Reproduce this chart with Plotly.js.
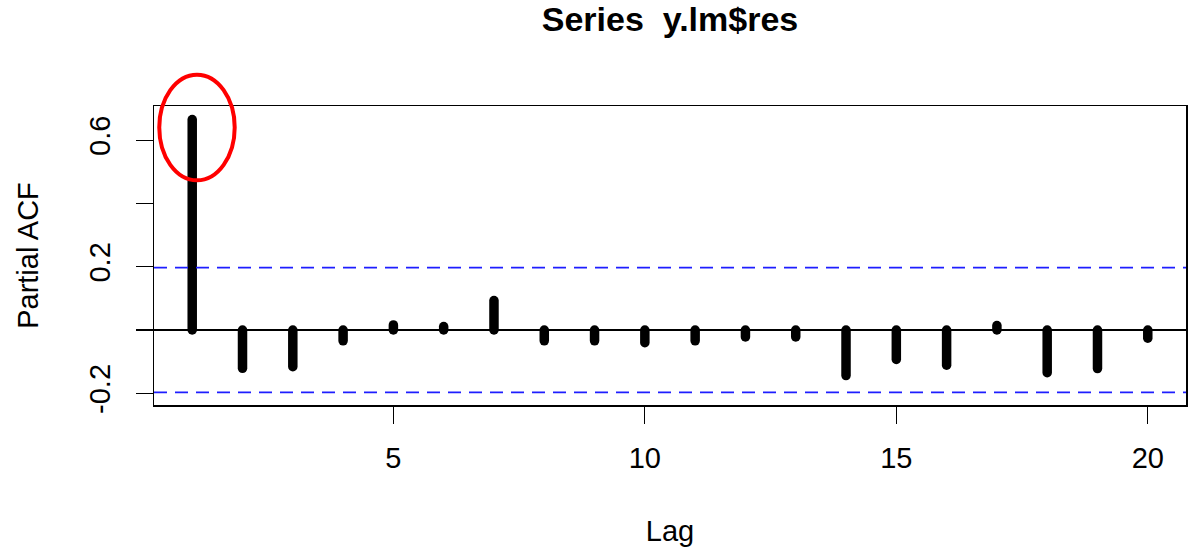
<!DOCTYPE html>
<html>
<head>
<meta charset="utf-8">
<script src="https://cdn.plot.ly/plotly-3.0.1.min.js"></script>
<style>
  html, body { margin: 0; padding: 0; background: #fff; }
  #chart { width: 1193px; height: 550px; }
  .scatterlayer .trace .js-line { stroke-linecap: round; }
</style>
</head>
<body>
<div id="chart"></div>
<script>
// Data
const lags = [1, 2, 3, 4, 5, 6, 7, 8, 9, 10, 11, 12, 13, 14, 15, 16, 17, 18, 19, 20];
const pacfValues = [0.665, -0.121, -0.116, -0.034, 0.016, 0.011, 0.093, -0.034, -0.034, -0.040,
                    -0.034, -0.022, -0.022, -0.144, -0.093, -0.111, 0.014, -0.135, -0.122, -0.026];
const confLimit = 0.197;
const xTickVals = [5, 10, 15, 20];
const yTickVals = [-0.2, 0, 0.2, 0.4, 0.6];
const yTickText = ['-0.2', '', '0.2', '', '0.6'];

// Build vertical spikes from the zero line to each value
const xs = [], ys = [];
lags.forEach((lag, i) => {
  xs.push(lag, lag, null);
  ys.push(0, pacfValues[i], null);
});

const font = 'Liberation Sans, Arial, sans-serif';

const traces = [{
  type: 'scatter',
  mode: 'lines',
  x: xs,
  y: ys,
  line: { color: '#000', width: 9.5 },
  hoverinfo: 'skip',
  showlegend: false,
  cliponaxis: false
}];

const layout = {
  width: 1193,
  height: 550,
  paper_bgcolor: '#fff',
  plot_bgcolor: '#fff',
  margin: { l: 154, r: 7, t: 106, b: 145 },
  showlegend: false,
  title: {
    text: '<b>Series  y.lm$res</b>',
    font: { family: font, size: 34, color: '#000' },
    x: 0.5, xanchor: 'center', xref: 'paper',
    y: 1 - 7 / 550, yanchor: 'top', yref: 'container'
  },
  xaxis: {
    range: [0.24, 20.76],
    tickvals: xTickVals,
    ticktext: xTickVals.map(String),
    ticks: 'outside', ticklen: 17, tickwidth: 1.3, tickcolor: '#000',
    tickfont: { family: font, size: 29, color: '#000' },
    ticklabelstandoff: 10,
    showline: true, linecolor: '#000', linewidth: 1.5, mirror: true,
    showgrid: false, zeroline: false,
    title: { text: 'Lag', font: { family: font, size: 29, color: '#000' }, standoff: 47 }
  },
  yaxis: {
    range: [-0.237, 0.708],
    tickvals: yTickVals,
    ticktext: yTickText,
    tickangle: -90,
    ticks: 'outside', ticklen: 17, tickwidth: 1.3, tickcolor: '#000',
    tickfont: { family: font, size: 29, color: '#000' },
    ticklabelstandoff: 14,
    showline: true, linecolor: '#000', linewidth: 1.5, mirror: true,
    showgrid: false,
    zeroline: true, zerolinecolor: '#000', zerolinewidth: 1.5,
    title: { text: 'Partial ACF', font: { family: font, size: 29, color: '#000' }, standoff: 37 }
  },
  shapes: [
    { type: 'line', xref: 'paper', yref: 'y', x0: 0, x1: 1, y0: confLimit, y1: confLimit,
      line: { color: 'rgb(30,30,255)', width: 1.8, dash: '13px,8px' }, layer: 'above' },
    { type: 'line', xref: 'paper', yref: 'y', x0: 0, x1: 1, y0: -confLimit, y1: -confLimit,
      line: { color: 'rgb(30,30,255)', width: 1.8, dash: '13px,8px' }, layer: 'above' },
    { type: 'circle', xref: 'paper', yref: 'paper', x0: 0.0051, x1: 0.0782, y0: 0.7515, y1: 1.1047,
      line: { color: '#ff0000', width: 4 }, fillcolor: 'rgba(0,0,0,0)', layer: 'above' }
  ]
};

Plotly.newPlot('chart', traces, layout, { displayModeBar: false, staticPlot: true });
</script>
</body>
</html>
